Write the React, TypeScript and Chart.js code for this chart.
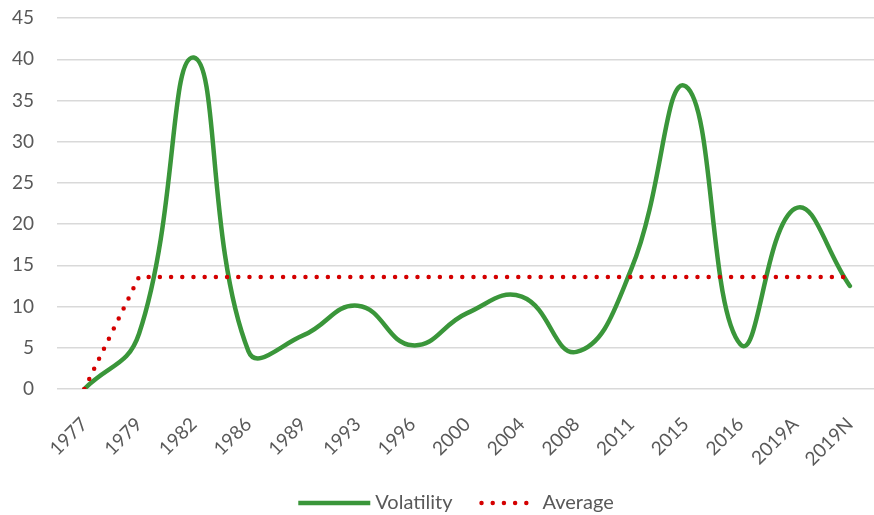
import React, { useEffect, useRef } from "react";
import { Chart, registerables } from "chart.js";

Chart.register(...registerables);

const categories = ["1977", "1979", "1982", "1986", "1989", "1993", "1996", "2000", "2004", "2008", "2011", "2015", "2016", "2019A", "2019N"];
const volatility = [0, 6.7, 40.2, 4.6, 6.5, 10.1, 5.3, 9.2, 11.2, 4.5, 14.5, 36.7, 5.4, 21.9, 12.5];
const average = [0, 13.6, 13.6, 13.6, 13.6, 13.6, 13.6, 13.6, 13.6, 13.6, 13.6, 13.6, 13.6, 13.6, 13.6];
const yTicks = [0, 5, 10, 15, 20, 25, 30, 35, 40, 45];
const legendOrder = ["Volatility", "Average"];

const FONT = "Lato, 'Noto Sans', sans-serif";
const TEXT = "#595959";

const customLegend = {
  id: "customLegend",
  afterDraw(chart: any) {
    const ctx = chart.ctx as CanvasRenderingContext2D;
    const y = 503;
    const sampleW = [72, 58];
    const font = `20px ${FONT}`;
    ctx.save();
    ctx.font = font;
    const items = legendOrder.map((name, i) => {
      const ds = chart.data.datasets.find((d: any) => d.label === name);
      return { name, ds, sw: sampleW[i], tw: ctx.measureText(name).width };
    });
    const gapText = 5;
    const gapItem = 27;
    let total = 0;
    items.forEach((it, i) => {
      total += it.sw + gapText + it.tw + (i < items.length - 1 ? gapItem : 0);
    });
    let x = 456 - total / 2;
    items.forEach((it) => {
      ctx.save();
      ctx.strokeStyle = it.ds.borderColor;
      ctx.lineWidth = it.ds.borderWidth;
      ctx.lineCap = it.ds.borderCapStyle || "butt";
      ctx.setLineDash(it.ds.borderDash || []);
      ctx.beginPath();
      if (it.ds.borderDash) {
        ctx.moveTo(x + 2, y);
        ctx.lineTo(x + it.sw - 1, y);
      } else {
        ctx.lineCap = "butt";
        ctx.moveTo(x, y);
        ctx.lineTo(x + it.sw, y);
      }
      ctx.stroke();
      ctx.restore();
      x += it.sw + gapText;
      ctx.fillStyle = TEXT;
      ctx.textBaseline = "middle";
      ctx.textAlign = "left";
      ctx.fillText(it.name, x, y);
      x += it.tw + gapItem;
    });
    ctx.restore();
  },
};

export default function App() {
  const ref = useRef<HTMLCanvasElement | null>(null);

  useEffect(() => {
    if (!ref.current) return;
    const chart = new Chart(ref.current, {
      type: "line",
      data: {
        labels: categories,
        datasets: [
          {
            label: "Average",
            data: average,
            borderColor: "#d40000",
            backgroundColor: "#d40000",
            borderWidth: 4.5,
            borderDash: [0, 11.2],
            borderCapStyle: "round",
            tension: 0,
            pointRadius: 0,
            fill: false,
          },
          {
            label: "Volatility",
            data: volatility,
            borderColor: "#3a963a",
            backgroundColor: "#3a963a",
            borderWidth: 4.5,
            borderCapStyle: "round",
            tension: 0.45,
            pointRadius: 0,
            fill: false,
          },
        ],
      },
      options: {
        responsive: false,
        animation: false,
        layout: { padding: { top: 18, left: 0, right: 0, bottom: 0 } },
        plugins: {
          tooltip: { enabled: false },
          legend: { display: false },
        },
        scales: {
          x: {
            offset: true,
            grid: { display: false },
            border: { display: false },
            ticks: {
              color: TEXT,
              font: { family: FONT, size: 19 },
              maxRotation: 45,
              minRotation: 45,
              padding: 16,
              autoSkip: false,
            },
            afterFit: (scale: any) => {
              scale.height = 515 - 389;
            },
          },
          y: {
            min: 0,
            max: 45,
            afterBuildTicks: (scale: any) => {
              scale.ticks = yTicks.map((v) => ({ value: v }));
            },
            grid: {
              color: "#d9d9d9",
              lineWidth: 1.4,
              drawTicks: true,
              tickLength: 23,
              tickColor: "rgba(0,0,0,0)",
            },
            border: { display: false },
            ticks: {
              color: TEXT,
              font: { family: FONT, size: 19 },
              padding: 0,
            },
            afterFit: (scale: any) => {
              scale.width = 57;
            },
          },
        },
      },
      plugins: [customLegend],
    });
    return () => chart.destroy();
  }, []);

  return (
    <div style={{ position: "fixed", left: 0, top: 0, width: 874, height: 515, overflow: "hidden", background: "#fff" }}>
      <canvas ref={ref} width={882} height={515} style={{ display: "block" }} />
    </div>
  );
}
